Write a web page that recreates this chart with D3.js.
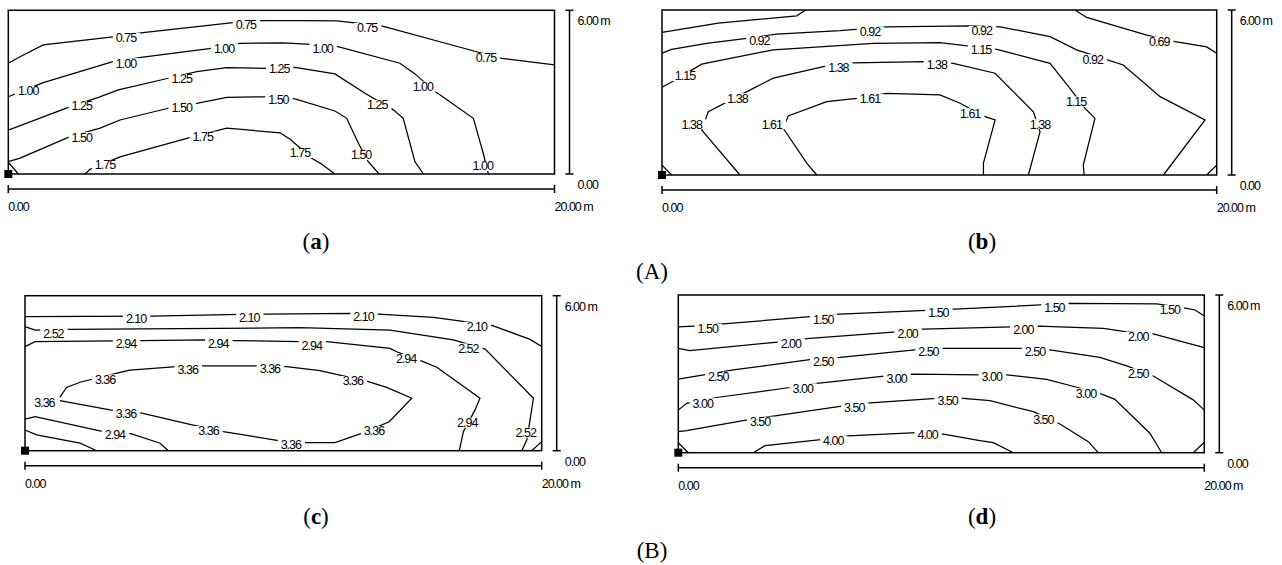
<!DOCTYPE html>
<html>
<head>
<meta charset="utf-8">
<script src="https://cdn.jsdelivr.net/npm/d3@7"></script>
<style>
  body { margin: 0; background: #fff; }
  .lbl { font-family: "Liberation Sans", Arial, sans-serif; font-size: 12.5px; letter-spacing: -1px; }
  .sub { font-family: "Liberation Serif", "Times New Roman", serif; font-size: 23px; }
</style>
</head>
<body>
<svg id="chart" width="1282" height="565"></svg>
<script>
// room size in metres
var ROOM_W = 20;
var ROOM_H = 6;

// contour lines per panel: level, points [x m, y m], label spots [x m, y m]
var linesA = [
  {level: 0.75, pts: [[0,4.06],[0.43,4.30],[1.28,4.73],[3.83,5.03],[4.93,5.18],[8.23,5.55],[9.33,5.62],[10.68,5.62],[12.03,5.61],[13.67,5.43],[17.15,4.48],[18.07,4.24],[20,4.00]],
   labels: [[4.31,4.99],[8.70,5.46],[13.14,5.35],[17.49,4.25]]},
  {level: 1.00, pts: [[0,2.83],[1.28,3.35],[3.83,4.12],[4.93,4.28],[7.50,4.61],[8.48,4.79],[10.06,4.81],[11.41,4.73],[12.07,4.67],[14.34,4.06],[14.89,3.67],[15.63,3.02],[17.03,2.04],[17.39,0.76],[17.58,0]],
   labels: [[0.73,3.04],[4.31,4.06],[7.90,4.61],[11.51,4.61],[15.18,3.20],[17.37,0.29]]},
  {level: 1.25, pts: [[0,1.61],[2.32,2.49],[3.30,2.81],[4.03,3.08],[5.86,3.51],[6.90,3.75],[8.00,3.90],[9.46,3.87],[10.50,3.91],[11.96,3.67],[13.06,2.96],[14.10,2.35],[14.46,2.04],[14.89,0.45],[15.20,0]],
   labels: [[2.69,2.49],[6.35,3.48],[9.92,3.85],[13.51,2.53]]},
  {level: 1.50, pts: [[0,0.45],[0.43,0.58],[2.26,1.37],[3.36,1.68],[4.09,1.98],[5.86,2.41],[6.90,2.59],[8.00,2.81],[9.46,2.83],[10.50,2.75],[11.96,2.31],[12.39,2.04],[12.82,1.13],[13.18,0.45],[13.58,0]],
   labels: [[2.69,1.35],[6.35,2.45],[9.89,2.74],[12.92,0.70]]},
  {level: 1.50, pts: [[0,0.43],[0.37,0]], labels: []},
  {level: 1.75, pts: [[2.81,0],[2.99,0.17],[4.09,0.63],[6.77,1.37],[8.00,1.68],[9.95,1.51],[10.32,1.27],[11.11,0.58],[11.48,0.36],[11.96,0]],
   labels: [[3.54,0.33],[7.12,1.37],[10.68,0.77]]}
];

var linesB = [
  {level: 0.69, pts: [[0,5.19],[2.03,5.52],[4.86,5.79],[5.18,6]], labels: []},
  {level: 0.69, pts: [[14.89,6],[15.31,5.73],[17.48,5.09],[18.50,4.85],[19.64,4.66],[20,4.43]], labels: [[17.93,4.85]]},
  {level: 0.92, pts: [[0,4.43],[0.35,4.57],[1.61,4.79],[3.05,4.97],[4.14,5.12],[6.42,5.25],[8.10,5.39],[11.05,5.42],[12.19,5.39],[13.99,5.03],[14.95,4.55],[16.09,4.18],[16.63,4.00],[17.96,2.85],[19.58,2.00],[18.08,0]],
   labels: [[3.51,4.88],[7.50,5.21],[11.53,5.24],[15.53,4.21]]},
  {level: 0.92, pts: [[19.64,0],[20,0.36]], labels: []},
  {level: 1.15, pts: [[0,3.19],[0.41,3.42],[1.43,4.03],[4.01,4.55],[7.62,4.79],[10.02,4.81],[12.07,4.57],[13.99,4.06],[14.71,3.15],[15.25,2.43],[15.61,2.06],[15.19,0.36],[15.22,0]],
   labels: [[0.83,3.60],[11.50,4.55],[14.93,2.67]]},
  {level: 1.38, pts: [[2.81,0],[1.43,1.64],[1.67,2.30],[3.29,3.15],[4.01,3.52],[5.94,3.97],[6.90,4.08],[9.48,4.12],[10.50,4.06],[12.01,3.70],[13.39,2.30],[13.63,1.57],[13.21,0]],
   labels: [[1.07,1.85],[2.72,2.79],[6.36,3.92],[9.91,4.00],[13.63,1.85]]},
  {level: 1.38, pts: [[0,0.36],[0.35,0]], labels: []},
  {level: 1.61, pts: [[5.58,0],[5.22,0.43],[4.37,1.70],[4.55,2.15],[5.94,2.67],[7.02,2.79],[8.10,2.97],[10.02,2.91],[10.75,2.61],[11.65,2.12],[12.01,2.00],[11.59,0.43],[11.59,0]],
   labels: [[3.96,1.85],[7.50,2.76],[11.11,2.24]]}
];

var linesC = [
  {level: 2.10, pts: [[0,5.19],[4.90,5.21],[8.32,5.28],[9.29,5.29],[12.71,5.32],[13.68,5.29],[15.81,5.16],[17.10,4.99],[18.10,4.84],[19.55,4.31],[20,4.03]],
   labels: [[4.30,5.10],[8.68,5.16],[13.10,5.19],[17.49,4.80]]},
  {level: 2.10, pts: [[19.61,0],[20,0.35]], labels: []},
  {level: 2.52, pts: [[0,4.80],[0.39,4.67],[1.68,4.70],[10.65,4.76],[14.13,4.67],[16.58,4.29],[17.81,3.93],[19.68,2.03],[19.55,1.19],[19.42,0.41],[19.23,0]],
   labels: [[1.10,4.54],[17.16,3.96],[19.38,0.70]]},
  {level: 2.52, pts: [[0,0.80],[0.45,0.61],[2.13,0.29],[2.78,0]], labels: []},
  {level: 2.94, pts: [[0,4.03],[0.39,4.22],[4.52,4.26],[7.03,4.29],[8.13,4.26],[10.65,4.22],[11.68,4.22],[14.13,3.96],[14.39,3.83],[15.36,3.47],[15.94,3.23],[17.61,2.03],[17.42,1.58],[16.97,0.74],[16.81,0]],
   labels: [[3.91,4.16],[7.48,4.16],[11.10,4.08],[14.75,3.55],[17.12,1.08]]},
  {level: 2.94, pts: [[0,1.22],[0.39,1.32],[3.03,0.74],[4.13,0.65],[5.23,0.29],[5.55,0]], labels: [[3.48,0.61]]},
  {level: 3.36, pts: [[1.35,2.07],[1.61,2.45],[2.13,2.65],[3.68,3.03],[4.06,3.12],[5.87,3.25],[6.90,3.28],[9.10,3.28],[10.13,3.25],[11.42,3.10],[13.29,2.67],[14.00,2.45],[14.97,2.03],[14.10,1.12],[13.03,0.67],[12.00,0.31],[10.90,0.31],[9.87,0.38],[7.68,0.74],[6.51,0.99],[4.52,1.45],[3.29,1.58],[1.35,1.94]],
   labels: [[0.75,1.87],[3.10,2.76],[6.30,3.15],[9.48,3.16],[12.69,2.70],[13.51,0.76],[10.29,0.22],[7.10,0.76],[3.91,1.42]]}
];

var linesD = [
  {level: 1.50, pts: [[0,4.79],[0.57,4.82],[1.71,4.90],[6.15,5.27],[10.52,5.46],[14.89,5.68],[18.19,5.66],[19.33,5.49],[19.65,5.43],[20,5.20]],
   labels: [[1.12,4.71],[5.51,5.08],[9.89,5.34],[14.30,5.52],[18.69,5.43]]},
  {level: 2.00, pts: [[0,3.97],[0.44,3.88],[3.87,4.22],[4.88,4.34],[8.30,4.60],[9.31,4.70],[12.68,4.79],[13.69,4.82],[16.16,4.73],[17.05,4.60],[18.06,4.52],[20,4.00]],
   labels: [[4.28,4.16],[8.72,4.54],[13.12,4.67],[17.49,4.41]]},
  {level: 2.50, pts: [[0,2.80],[1.14,2.99],[2.09,3.15],[5.07,3.55],[6.15,3.63],[9.19,3.93],[10.08,3.97],[13.12,3.97],[14.13,3.91],[16.03,3.63],[17.05,3.30],[18.06,2.92],[19.58,2.01],[20,1.62]],
   labels: [[1.52,2.89],[5.51,3.46],[9.51,3.84],[13.56,3.84],[17.49,3.02]]},
  {level: 3.00, pts: [[0,1.62],[0.32,1.88],[1.52,2.11],[4.31,2.49],[5.26,2.64],[7.92,2.92],[8.93,2.99],[11.47,2.96],[12.49,2.96],[14.01,2.79],[15.15,2.49],[16.10,2.23],[16.60,2.03],[17.93,0.74],[18.38,0]],
   labels: [[0.93,1.88],[4.73,2.45],[8.30,2.83],[11.92,2.89],[15.50,2.26]]},
  {level: 3.50, pts: [[0,0.80],[0.32,0.84],[2.73,1.27],[3.68,1.40],[6.34,1.79],[7.29,1.90],[9.82,2.07],[10.84,2.07],[11.85,1.98],[13.50,1.56],[14.51,1.09],[15.59,0.42],[15.97,0]],
   labels: [[3.11,1.18],[6.69,1.73],[10.24,1.98],[13.88,1.27]]},
  {level: 4.00, pts: [[2.85,0],[3.30,0.27],[5.51,0.51],[6.46,0.64],[9.06,0.76],[10.08,0.71],[11.47,0.46],[11.98,0.38],[12.74,0]],
   labels: [[5.89,0.46],[9.48,0.67]]},
  {level: 4.00, pts: [[0,0.38],[0.38,0]], labels: []},
  {level: 3.50, pts: [[19.58,0],[20,0.40]], labels: []}
];

// panel boxes on the page
var panels = [
  {lines: linesA, left: 8.3,  top: 10.3,  right: 554.5,  bottom: 174},
  {lines: linesB, left: 662,  top: 10,    right: 1216.7, bottom: 175},
  {lines: linesC, left: 25,   top: 295.7, right: 541.7,  bottom: 450.7},
  {lines: linesD, left: 678.3, top: 295,  right: 1204.3, bottom: 452.7}
];

var subtitles = [
  {pre: "(", letter: "a", post: ")", x: 316, y: 249, bold: true},
  {pre: "(", letter: "b", post: ")", x: 982, y: 249, bold: true},
  {pre: "(", letter: "A", post: ")", x: 652, y: 279, bold: false},
  {pre: "(", letter: "c", post: ")", x: 316, y: 524, bold: true},
  {pre: "(", letter: "d", post: ")", x: 982, y: 524, bold: true},
  {pre: "(", letter: "B", post: ")", x: 652, y: 558, bold: false}
];

var svg = d3.select("#chart");
var fmt = d3.format(".2f");

panels.forEach(function(p){
  var x = d3.scaleLinear().domain([0, ROOM_W]).range([p.left, p.right]);
  var y = d3.scaleLinear().domain([0, ROOM_H]).range([p.bottom, p.top]);
  var line = d3.line().x(function(d){ return x(d[0]); }).y(function(d){ return y(d[1]); });
  var g = svg.append("g");

  // contour lines
  g.selectAll(".iso")
    .data(p.lines)
    .enter().append("path")
    .attr("class", "iso")
    .attr("d", function(d){ return line(d.pts); })
    .attr("fill", "none")
    .attr("stroke", "#000")
    .attr("stroke-width", 1.25);

  // labels with white patch under them
  p.lines.forEach(function(c){
    c.labels.forEach(function(l){
      var lg = g.append("g");
      var bg = lg.append("rect").attr("fill", "#fff");
      var t = lg.append("text")
        .attr("class", "lbl")
        .attr("x", x(l[0]))
        .attr("y", y(l[1]))
        .attr("dy", "0.35em")
        .attr("text-anchor", "middle")
        .attr("fill", "#000")
        .text(fmt(c.level));
      var bb = t.node().getBBox();
      bg.attr("x", bb.x - 3)
        .attr("y", y(l[1]) - 5)
        .attr("width", bb.width + 6)
        .attr("height", 10);
    });
  });

  // frame
  g.append("rect")
    .attr("x", p.left).attr("y", p.top)
    .attr("width", p.right - p.left).attr("height", p.bottom - p.top)
    .attr("fill", "none").attr("stroke", "#000").attr("stroke-width", 1.5);

  // origin marker
  g.append("rect")
    .attr("x", x(0) - 4).attr("y", y(0) - 4)
    .attr("width", 8).attr("height", 8)
    .attr("fill", "#000");

  // vertical scale bar
  var vx = p.right + 15;
  g.append("line").attr("x1", vx).attr("x2", vx).attr("y1", y(ROOM_H)).attr("y2", y(0))
    .attr("stroke", "#000").attr("stroke-width", 1.5);
  [0, ROOM_H].forEach(function(v){
    g.append("line").attr("x1", vx - 4).attr("x2", vx + 4).attr("y1", y(v)).attr("y2", y(v))
      .attr("stroke", "#000").attr("stroke-width", 1.5);
  });
  g.append("text").attr("class", "lbl").attr("x", vx + 8).attr("y", y(ROOM_H) + 15)
    .text(fmt(ROOM_H) + " m");
  g.append("text").attr("class", "lbl").attr("x", vx + 8).attr("y", y(0) + 15)
    .text(fmt(0));

  // horizontal scale bar
  var hy = p.bottom + 15;
  g.append("line").attr("x1", x(0)).attr("x2", x(ROOM_W)).attr("y1", hy).attr("y2", hy)
    .attr("stroke", "#000").attr("stroke-width", 1.5);
  [0, ROOM_W].forEach(function(v){
    g.append("line").attr("x1", x(v)).attr("x2", x(v)).attr("y1", hy - 4).attr("y2", hy + 4)
      .attr("stroke", "#000").attr("stroke-width", 1.5);
  });
  g.append("text").attr("class", "lbl").attr("x", x(0)).attr("y", hy + 22)
    .text(fmt(0));
  g.append("text").attr("class", "lbl").attr("x", x(ROOM_W)).attr("y", hy + 22)
    .text(fmt(ROOM_W) + " m");
});

// panel captions
subtitles.forEach(function(s){
  var t = svg.append("text").attr("class", "sub")
    .attr("x", s.x).attr("y", s.y).attr("text-anchor", "middle");
  t.append("tspan").text(s.pre);
  t.append("tspan").attr("font-weight", s.bold ? "bold" : "normal").text(s.letter);
  t.append("tspan").text(s.post);
});
</script>
</body>
</html>
